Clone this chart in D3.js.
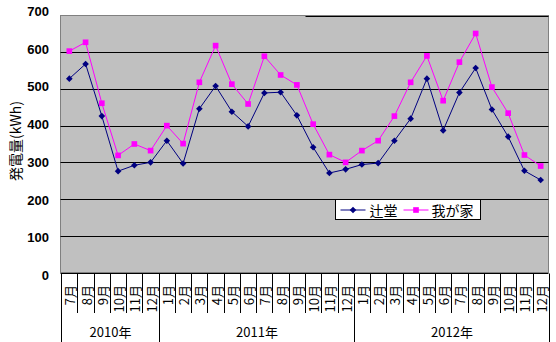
<!DOCTYPE html>
<html>
<head>
<meta charset="utf-8">
<script src="https://cdn.jsdelivr.net/npm/d3@7"></script>
<style>
  html, body { margin: 0; padding: 0; background: #fff; }
  svg { display: block; }
</style>
</head>
<body>
<svg id="chart" width="556" height="342"></svg>
<script>
// Monthly generation (kWh), July 2010 – December 2012
const years = ["2010年", "2011年", "2012年"];
const months = [
  "7月", "8月", "9月", "10月", "11月", "12月",
  "1月", "2月", "3月", "4月", "5月", "6月", "7月", "8月", "9月", "10月", "11月", "12月",
  "1月", "2月", "3月", "4月", "5月", "6月", "7月", "8月", "9月", "10月", "11月", "12月"
];
const seriesNames = ["辻堂", "我が家"];
const tsujido = [
  528, 568, 426, 276, 292, 300,
  359, 297, 446, 508, 438, 398, 489, 491, 428, 341, 271, 281,
  294, 298, 359, 419, 528, 387, 490, 557, 444, 370, 277, 252
];
const wagaya = [
  603, 627, 461, 319, 350, 332,
  400, 351, 518, 618, 513, 459, 589, 538, 511, 404, 321, 300,
  332, 359, 426, 518, 590, 468, 573, 651, 505, 434, 320, 290
];
const yTicks = [0, 100, 200, 300, 400, 500, 600, 700];
const yTitle = "発電量(kWh)";

const svg = d3.select("#chart");
const jp = "'Noto Sans CJK JP', 'Noto Sans', sans-serif";
const num = "'Liberation Sans', Arial, sans-serif";

const plot = { left: 60.5, right: 548.5, top: 15.5, bottom: 272.5 };

// category index for each month, and the year each month belongs to
const idx = months.map((m, i) => i);
let yr = 0;
const monthYear = months.map((m, i) => { if (i > 0 && m === "1月") yr++; return yr; });

const x = d3.scaleBand().domain(idx).range([61.2, 548.8]).padding(0);
const bw = x.bandwidth();
const cx = i => x(i) + bw / 2;

const y = d3.scaleLinear().domain([0, 700]).range([272.5, 15.5]);
// tick text sits on its own slightly wider scale
const yLab = d3.scaleLinear().domain([0, 700]).range([275.5, 11.5]);

// plot background
svg.append("rect")
  .attr("x", plot.left).attr("y", plot.top)
  .attr("width", plot.right - plot.left).attr("height", plot.bottom - plot.top)
  .attr("fill", "#c0c0c0").attr("stroke", "#808080").attr("stroke-width", 1);

// gridlines
const gy = v => Math.round(y(v)) + 0.5;
svg.append("g").selectAll("line")
  .data(yTicks.filter(v => v > 0 && v < 700))
  .join("line")
  .attr("x1", plot.left).attr("x2", plot.right)
  .attr("y1", gy).attr("y2", gy)
  .attr("stroke", "#000").attr("stroke-width", 1);
// top gridline is only partly drawn over the border
svg.append("line")
  .attr("x1", Math.round(x(15)) + 0.5).attr("x2", plot.right)
  .attr("y1", gy(700)).attr("y2", gy(700))
  .attr("stroke", "#000").attr("stroke-width", 1);

// y axis labels
svg.append("g").selectAll("text")
  .data(yTicks)
  .join("text")
  .attr("x", 49).attr("y", d => yLab(d))
  .attr("text-anchor", "end").attr("dominant-baseline", "central")
  .attr("font-family", num).attr("font-size", 13).attr("font-weight", "bold")
  .text(d => d);

// y axis title
svg.append("text")
  .attr("transform", "translate(15,141) rotate(-90)")
  .attr("text-anchor", "middle").attr("dominant-baseline", "central")
  .attr("font-family", jp).attr("font-size", 14)
  .text(yTitle);

// category axis
svg.append("line")
  .attr("x1", plot.left).attr("x2", plot.right)
  .attr("y1", gy(0)).attr("y2", gy(0))
  .attr("stroke", "#000");

const boundaries = d3.range(months.length + 1);
const bx = i => Math.round(i < months.length ? x(i) : x(months.length - 1) + bw) + 0.5;
const yearStarts = [0].concat(idx.filter(i => i > 0 && monthYear[i] !== monthYear[i - 1]), [months.length]);

svg.append("g").selectAll("line")
  .data(boundaries)
  .join("line")
  .attr("x1", bx).attr("x2", bx)
  .attr("y1", gy(0))
  .attr("y2", d => yearStarts.includes(d) ? 342 : 313)
  .attr("stroke", "#000");

svg.append("g").selectAll("text")
  .data(idx)
  .join("text")
  .attr("transform", i => `translate(${cx(i) + 0.5},285) rotate(-90)`)
  .attr("text-anchor", "end").attr("dominant-baseline", "central")
  .attr("font-family", jp).attr("font-size", 13)
  .text(i => months[i]);

svg.append("g").selectAll("text")
  .data(years)
  .join("text")
  .attr("x", (d, k) => (bx(yearStarts[k]) + bx(yearStarts[k + 1])) / 2)
  .attr("y", 336.5)
  .attr("text-anchor", "middle")
  .attr("font-family", jp).attr("font-size", 13)
  .text(d => d);

// series
const line = d3.line().x((d, i) => cx(i)).y(d => y(d));
const navy = "#000080", magenta = "#ff00ff";
const diamond = d3.symbol().type(d3.symbolDiamond2).size(28);
const square = d3.symbol().type(d3.symbolSquare).size(32);

function drawSeries(values, color, shape) {
  svg.append("path").datum(values)
    .attr("d", line).attr("fill", "none")
    .attr("stroke", color).attr("stroke-width", 1);
  svg.append("g").selectAll("path")
    .data(values)
    .join("path")
    .attr("transform", (d, i) => `translate(${cx(i)},${y(d)})`)
    .attr("d", shape).attr("fill", color);
}
drawSeries(tsujido, navy, diamond);
drawSeries(wagaya, magenta, square);

// legend
const lg = svg.append("g").attr("transform", "translate(335.5,199.5)");
lg.append("rect").attr("width", 145).attr("height", 20)
  .attr("fill", "#fff").attr("stroke", "#000");
const entries = [
  { name: seriesNames[0], color: navy, shape: diamond, x0: 5, tx: 34 },
  { name: seriesNames[1], color: magenta, shape: square, x0: 68, tx: 96 }
];
entries.forEach(e => {
  lg.append("line").attr("x1", e.x0).attr("x2", e.x0 + 25)
    .attr("y1", 10.5).attr("y2", 10.5).attr("stroke", e.color);
  lg.append("path").attr("transform", `translate(${e.x0 + 12.5},10.5)`)
    .attr("d", e.shape).attr("fill", e.color);
  lg.append("text").attr("x", e.tx).attr("y", 10.5)
    .attr("dominant-baseline", "central")
    .attr("font-family", jp).attr("font-size", 14)
    .text(e.name);
});
</script>
</body>
</html>
